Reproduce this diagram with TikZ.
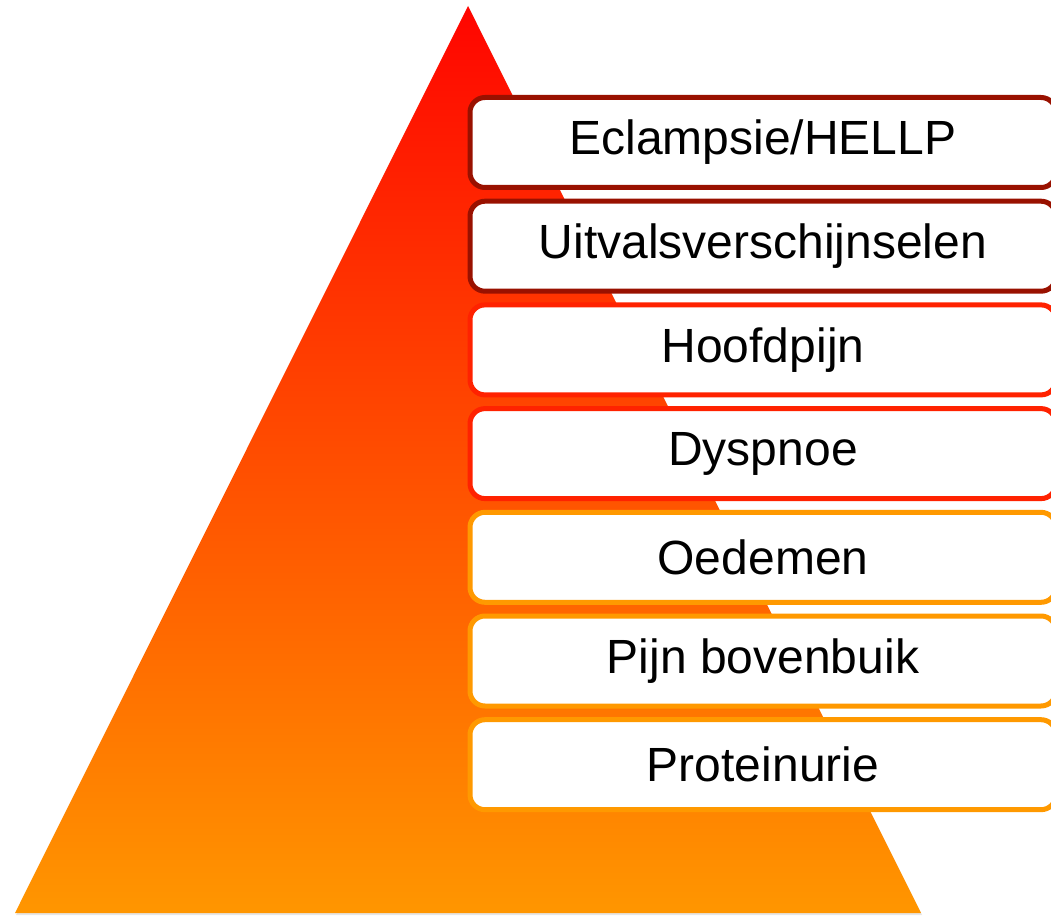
\documentclass[tikz,border=0pt]{standalone}
\usepackage{fontspec}
\setmainfont{Liberation Sans}
\usepackage{xcolor}
\usepackage{tikz}
\usetikzlibrary{positioning,shadows}
\definecolor{borddonker}{HTML}{991100}
\definecolor{bordrood}{HTML}{FF2200}
\definecolor{bordoranje}{HTML}{FF9900}
\definecolor{piramidetop}{HTML}{FF0500}
\definecolor{piramidevoet}{HTML}{FF9600}
\tikzstyle{trede}=[rectangle, rounded corners=15pt, fill=white, line width=5pt, minimum width=586pt, minimum height=90pt, text centered, font=\fontsize{48}{54}\selectfont]

\begin{document}
\begin{tikzpicture}[x=1pt, y=-1pt, node distance=8.7pt]
	\useasboundingbox (0,0) rectangle (1051,917);

	\coordinate (top) at (468,6);
	\coordinate (linksonder) at (15,913);
	\coordinate (rechtsonder) at (921,913);
	\path[top color=piramidetop, bottom color=piramidevoet, drop shadow={opacity=0.2, shadow xshift=1pt, shadow yshift=-2pt}]
		(top) -- (rechtsonder) -- (linksonder) -- cycle;

	\node[trede, draw=borddonker] (eclampsie) at (763,142.5) {Eclampsie/HELLP};
	\node[trede, draw=borddonker] (uitval) [below=of eclampsie] {Uitvalsverschijnselen};
	\node[trede, draw=bordrood] (hoofdpijn) [below=of uitval] {Hoofdpijn};
	\node[trede, draw=bordrood] (dyspnoe) [below=of hoofdpijn] {Dyspnoe};
	\node[trede, draw=bordoranje] (oedemen) [below=of dyspnoe] {Oedemen};
	\node[trede, draw=bordoranje] (bovenbuik) [below=of oedemen] {Pijn bovenbuik};
	\node[trede, draw=bordoranje] (proteinurie) [below=of bovenbuik] {Proteinurie};
\end{tikzpicture}
\end{document}
